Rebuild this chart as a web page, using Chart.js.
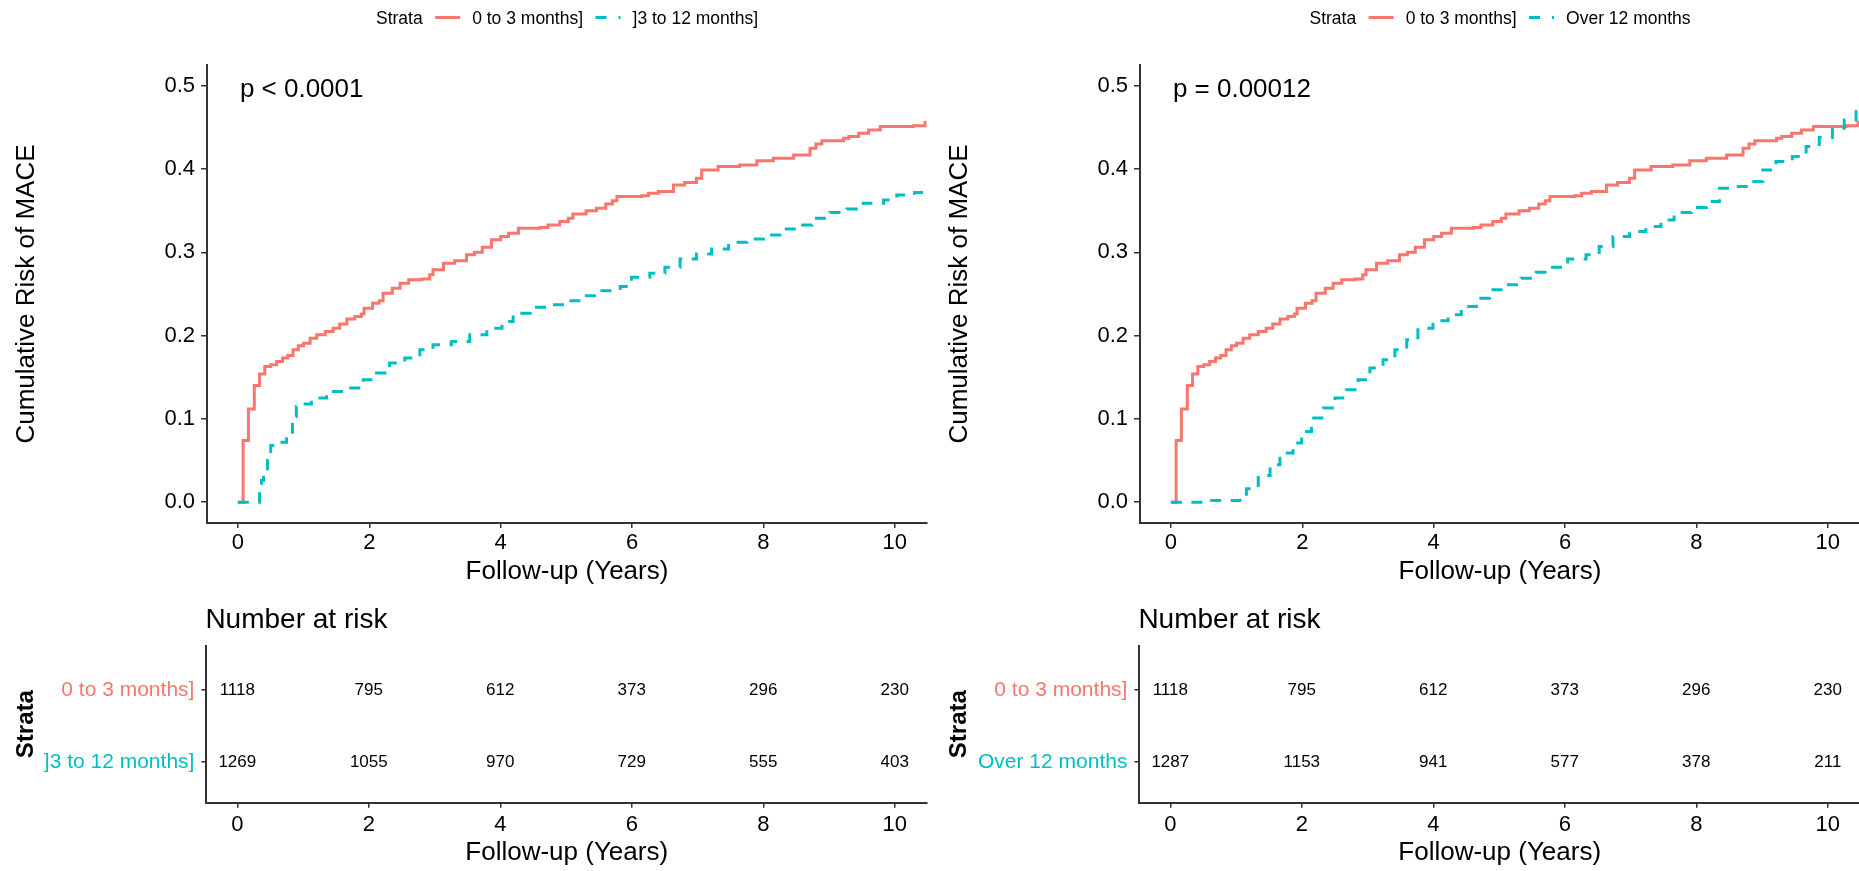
<!DOCTYPE html>
<html>
<head>
<meta charset="utf-8">
<script src="https://cdn.jsdelivr.net/npm/chart.js@4.4.1/dist/chart.umd.min.js"></script>
<style>
  html, body { margin: 0; padding: 0; background: #fff; overflow: hidden; width: 1859px; height: 871px; }
  canvas { position: absolute; }
</style>
</head>
<body>
<canvas id="kmLeft" width="930" height="600" style="left:0;top:0"></canvas>
<canvas id="kmRight" width="930" height="600" style="left:933px;top:0"></canvas>
<canvas id="riskLeft" width="930" height="271" style="left:0;top:600px"></canvas>
<canvas id="riskRight" width="930" height="271" style="left:933px;top:600px"></canvas>
<script>
// strata names
const strataEarly = '0 to 3 months]';
const strataMid = ']3 to 12 months]';
const strataLate = 'Over 12 months';

// cumulative risk of MACE, step points (years, risk)
const earlyTimes = [0, 0.08, 0.16, 0.25, 0.33, 0.41, 0.50, 0.59, 0.68, 0.76, 0.84, 0.92,
  1.00, 1.10, 1.20, 1.33, 1.45, 1.55, 1.66, 1.78, 1.88, 1.92, 2.05, 2.15,
  2.21, 2.35, 2.47, 2.60, 2.80, 2.92, 2.97, 3.13, 3.30, 3.48, 3.60, 3.72,
  3.86, 4.00, 4.12, 4.27, 4.60, 4.72, 4.90, 5.03, 5.10, 5.30, 5.46, 5.60,
  5.70, 5.77, 6.15, 6.25, 6.40, 6.63, 6.80, 6.98, 7.06, 7.31, 7.64, 7.90,
  8.15, 8.46, 8.71, 8.80, 8.89, 9.22, 9.30, 9.45, 9.60, 9.78, 10.28, 10.46];
const earlyRisk = [0, 0.074, 0.112, 0.140, 0.154, 0.163, 0.165, 0.169, 0.173, 0.176, 0.183, 0.188,
  0.191, 0.197, 0.201, 0.205, 0.209, 0.214, 0.220, 0.223, 0.226, 0.233, 0.239, 0.242,
  0.251, 0.257, 0.263, 0.267, 0.268, 0.273, 0.279, 0.287, 0.290, 0.297, 0.300, 0.306,
  0.315, 0.319, 0.323, 0.329, 0.330, 0.333, 0.337, 0.341, 0.346, 0.350, 0.353, 0.358,
  0.362, 0.367, 0.368, 0.371, 0.373, 0.381, 0.384, 0.389, 0.399, 0.403, 0.405, 0.410,
  0.413, 0.417, 0.425, 0.430, 0.434, 0.437, 0.439, 0.443, 0.447, 0.451, 0.452, 0.458];

const midTimes = [0, 0.33, 0.36, 0.39, 0.45, 0.50, 0.59, 0.74, 0.83, 0.89, 1.00, 1.12,
  1.35, 1.66, 1.91, 2.11, 2.31, 2.54, 2.77, 2.97, 3.25, 3.53, 3.79, 4.02,
  4.19, 4.45, 4.75, 5.00, 5.28, 5.54, 5.82, 5.99, 6.27, 6.50, 6.73, 6.98,
  7.21, 7.47, 7.75, 8.00, 8.25, 8.53, 8.74, 9.01, 9.27, 9.52, 9.83, 10.03, 10.30, 10.49];
const midRisk = [0, 0.010, 0.026, 0.035, 0.050, 0.068, 0.072, 0.079, 0.103, 0.115, 0.118, 0.125,
  0.133, 0.137, 0.147, 0.155, 0.167, 0.173, 0.183, 0.189, 0.193, 0.201, 0.209, 0.217,
  0.227, 0.234, 0.237, 0.242, 0.248, 0.254, 0.259, 0.270, 0.275, 0.282, 0.292, 0.298,
  0.304, 0.312, 0.316, 0.321, 0.328, 0.333, 0.341, 0.348, 0.352, 0.359, 0.363, 0.369, 0.372, 0.372];

const lateTimes = [0, 0.50, 1.05, 1.15, 1.33, 1.51, 1.66, 1.86, 1.99, 2.14, 2.32, 2.50,
  2.67, 2.85, 3.03, 3.23, 3.41, 3.59, 3.76, 3.99, 4.22, 4.42, 4.65, 4.85,
  5.11, 5.33, 5.56, 5.81, 6.04, 6.32, 6.52, 6.73, 6.98, 7.23, 7.46, 7.66,
  7.92, 8.15, 8.35, 8.60, 8.85, 9.01, 9.21, 9.46, 9.67, 9.87, 10.07, 10.25, 10.43];
const lateRisk = [0, 0.002, 0.005, 0.016, 0.032, 0.045, 0.059, 0.071, 0.085, 0.101, 0.113, 0.125,
  0.135, 0.147, 0.161, 0.171, 0.183, 0.195, 0.209, 0.218, 0.225, 0.235, 0.245, 0.255,
  0.261, 0.269, 0.276, 0.282, 0.292, 0.297, 0.307, 0.319, 0.325, 0.331, 0.339, 0.348,
  0.354, 0.361, 0.377, 0.379, 0.385, 0.399, 0.409, 0.415, 0.427, 0.438, 0.449, 0.459, 0.472];

// number at risk table
const riskTimes = [0, 2, 4, 6, 8, 10];
const atRiskEarly = [1118, 795, 612, 373, 296, 230];
const atRiskMid = [1269, 1055, 970, 729, 555, 403];
const atRiskLate = [1287, 1153, 941, 577, 378, 211];

const xTicks = [0, 2, 4, 6, 8, 10];
const yTicks = [0, 0.1, 0.2, 0.3, 0.4, 0.5];
const pLeft = 'p < 0.0001';
const pRight = 'p = 0.00012';

const FONT = "'Liberation Sans', Arial, sans-serif";
const RED = '#F8766D';
const CYAN = '#00BFC4';
const AXIS = '#333333';
const X_MIN = -0.47, X_MAX = 10.49;

function stepData(times, risk) {
  return times.map((t, i) => ({ x: t, y: risk[i] }));
}

function axisBase() {
  return {
    border: { display: true, color: AXIS, width: 2 },
    grid: { drawOnChartArea: false, drawTicks: true, tickLength: 5, color: AXIS, lineWidth: 1.5 }
  };
}

// p value + legend on top
const kmDecor = {
  id: 'kmDecor',
  afterDraw(chart) {
    const o = chart.options.plugins.kmDecor;
    const { ctx, chartArea, scales } = chart;
    ctx.save();
    ctx.fillStyle = '#000';
    ctx.textBaseline = 'middle';
    ctx.textAlign = 'left';
    ctx.font = '26px ' + FONT;
    ctx.fillText(o.pText, scales.x.getPixelForValue(0) + 2, scales.y.getPixelForValue(0.5) + 4);

    ctx.font = '17.5px ' + FONT;
    const keyW = 25;
    const items = chart.data.datasets.map(ds => ({ label: ds.label, color: ds.borderColor, dash: ds.borderDash ? [11, 12] : [] }));
    let total = ctx.measureText('Strata').width;
    items.forEach(it => { total += 12.5 + keyW + 12 + ctx.measureText(it.label).width; });
    let x = (chartArea.left + chartArea.right) / 2 - total / 2;
    const ty = 19, ky = 17.5;
    ctx.fillText('Strata', x, ty);
    x += ctx.measureText('Strata').width;
    items.forEach(it => {
      x += 12.5;
      ctx.strokeStyle = it.color;
      ctx.lineWidth = 3;
      ctx.setLineDash(it.dash);
      ctx.beginPath();
      ctx.moveTo(x, ky);
      ctx.lineTo(x + keyW, ky);
      ctx.stroke();
      ctx.setLineDash([]);
      x += keyW + 12;
      ctx.fillText(it.label, x, ty);
      x += ctx.measureText(it.label).width;
    });
    ctx.restore();
  }
};

function makeKm(id, otherLabel, otherTimes, otherRisk, pText) {
  const yAxis = axisBase();
  yAxis.grid.tickLength = 6;
  new Chart(document.getElementById(id), {
    type: 'line',
    data: {
      datasets: [
        { label: strataEarly, data: stepData(earlyTimes, earlyRisk), borderColor: RED, borderWidth: 3,
          stepped: 'before', pointRadius: 0, fill: false, order: 2 },
        { label: otherLabel, data: stepData(otherTimes, otherRisk), borderColor: CYAN, borderWidth: 3,
          borderDash: [11, 9.5], stepped: 'before', pointRadius: 0, fill: false, order: 1 }
      ]
    },
    options: {
      responsive: false,
      animation: false,
      devicePixelRatio: 1,
      layout: { padding: { top: 65, right: 3, left: 0, bottom: 0 } },
      plugins: { legend: { display: false }, tooltip: { enabled: false }, kmDecor: { pText: pText } },
      scales: {
        x: Object.assign(axisBase(), {
          type: 'linear', min: X_MIN, max: X_MAX,
          afterBuildTicks: s => { s.ticks = xTicks.map(v => ({ value: v })); },
          afterFit: s => { s.height = 77; },
          ticks: { color: '#000', font: { size: 22, family: FONT }, padding: 2.1, maxRotation: 0, callback: v => String(v) },
          title: { display: true, text: 'Follow-up (Years)', color: '#000', font: { size: 26, family: FONT }, padding: { top: 0, bottom: 12.9 } }
        }),
        y: Object.assign(yAxis, {
          type: 'linear', min: -0.025, max: 0.525,
          afterBuildTicks: s => { s.ticks = yTicks.map(v => ({ value: v })); },
          afterFit: s => { s.width = 207; },
          ticks: { color: '#000', font: { size: 22, family: FONT }, padding: 6, callback: v => v.toFixed(1) },
          title: { display: true, text: 'Cumulative Risk of MACE', color: '#000', font: { size: 26, family: FONT }, padding: { top: 11, bottom: 0 } }
        })
      }
    },
    plugins: [kmDecor]
  });
}

function makeRisk(id, labels, colors, rows) {
  const numbers = {
    id: 'riskNumbers',
    afterDatasetsDraw(chart) {
      const ctx = chart.ctx;
      ctx.save();
      ctx.fillStyle = '#000';
      ctx.textBaseline = 'middle';
      ctx.textAlign = 'center';
      ctx.font = '17px ' + FONT;
      chart.data.datasets.forEach((ds, r) => {
        chart.getDatasetMeta(r).data.forEach((pt, i) => ctx.fillText(String(rows[r][i]), pt.x, pt.y));
      });
      ctx.textAlign = 'left';
      ctx.font = '28px ' + FONT;
      ctx.fillText('Number at risk', chart.chartArea.left - 1, chart.chartArea.top - 25);
      ctx.restore();
    }
  };
  new Chart(document.getElementById(id), {
    type: 'line',
    data: {
      datasets: rows.map((counts, r) => ({
        label: labels[r],
        data: riskTimes.map(t => ({ x: t, y: r + 1 })),
        showLine: false, pointRadius: 0, borderColor: colors[r]
      }))
    },
    options: {
      responsive: false,
      animation: false,
      devicePixelRatio: 1,
      layout: { padding: { top: 45.7, right: 3, left: 0, bottom: 0 } },
      plugins: { legend: { display: false }, tooltip: { enabled: false } },
      scales: {
        x: Object.assign(axisBase(), {
          type: 'linear', min: X_MIN, max: X_MAX,
          afterBuildTicks: s => { s.ticks = riskTimes.map(v => ({ value: v })); },
          afterFit: s => { s.height = 68.3; },
          ticks: { color: '#000', font: { size: 22, family: FONT }, padding: 4.4, maxRotation: 0, callback: v => String(v) },
          title: { display: true, text: 'Follow-up (Years)', color: '#000', font: { size: 26, family: FONT }, padding: { top: 0, bottom: 2.9 } }
        }),
        y: Object.assign(axisBase(), {
          type: 'linear', reverse: true, min: 0.385, max: 2.565,
          afterBuildTicks: s => { s.ticks = labels.map((l, i) => ({ value: i + 1 })); },
          afterFit: s => { s.width = 206.4; },
          ticks: { color: c => colors[c.index], font: { size: 21, family: FONT }, padding: 7, callback: v => labels[v - 1] },
          title: { display: true, text: 'Strata', color: '#000', font: { size: 24, weight: 'bold', family: FONT }, padding: { top: 12.3, bottom: 0 } }
        })
      }
    },
    plugins: [numbers]
  });
}

makeKm('kmLeft', strataMid, midTimes, midRisk, pLeft);
makeKm('kmRight', strataLate, lateTimes, lateRisk, pRight);
makeRisk('riskLeft', [strataEarly, strataMid], [RED, CYAN], [atRiskEarly, atRiskMid]);
makeRisk('riskRight', [strataEarly, strataLate], [RED, CYAN], [atRiskEarly, atRiskLate]);
</script>
</body>
</html>
